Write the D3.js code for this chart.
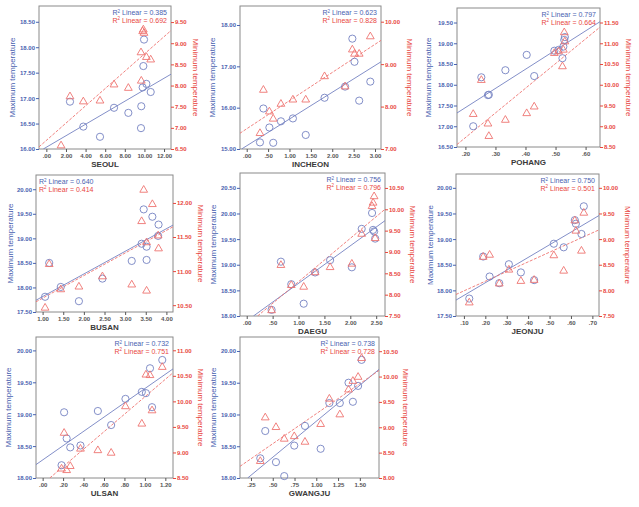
<!DOCTYPE html>
<html>
<head>
<meta charset="utf-8">
<script src="https://cdn.jsdelivr.net/npm/d3@7"></script>
<style>
  body { margin: 0; background: #fff; }
  svg { display: block; font-family: "Liberation Sans", Arial, sans-serif; }
</style>
</head>
<body>
<svg id="chart" width="639" height="507"></svg>
<script>
// ---- data ----
const stations = ["SEOUL", "INCHEON", "POHANG", "BUSAN", "DAEGU", "JEONJU", "ULSAN", "GWANGJU"];

const xValues = [
  [1.50, 2.41, 3.77, 5.47, 6.90, 8.36, 9.65, 9.68, 9.82, 10.20, 10.64, 9.89, 9.96],
  [0.39, 0.53, 0.31, 0.62, 0.80, 1.08, 1.38, 1.82, 2.30, 2.47, 2.52, 2.63, 2.89],
  [0.226, 0.253, 0.275, 0.278, 0.333, 0.404, 0.429, 0.496, 0.510, 0.523, 0.526, 0.529, 0.531],
  [1.06, 1.16, 1.44, 1.88, 2.45, 3.16, 3.40, 3.45, 3.52, 3.52, 3.66, 3.81, 3.80],
  [0.48, 0.66, 0.86, 1.10, 1.32, 1.61, 2.03, 2.22, 2.42, 2.44, 2.46, 2.48],
  [0.125, 0.19, 0.22, 0.265, 0.31, 0.366, 0.428, 0.52, 0.566, 0.618, 0.623, 0.649, 0.66],
  [0.185, 0.21, 0.235, 0.27, 0.37, 0.54, 0.67, 0.81, 0.97, 1.01, 1.05, 1.07, 1.17],
  [0.357, 0.414, 0.537, 0.632, 0.747, 0.87, 1.05, 1.15, 1.27, 1.37, 1.42, 1.48, 1.52]
];

// maximum temperature (circles, left axis)
const maxTemp = [
  [null, 16.93, 16.44, 16.24, 16.81, 16.71, 16.41, 16.84, 17.21, 17.28, 17.12, 17.63, 18.15],
  [15.98, 15.52, 15.16, 15.15, 15.67, 15.74, 15.34, 16.24, 16.51, 17.67, 17.11, 16.17, 16.63],
  [17.00, 18.18, 17.75, 17.76, 18.35, 18.72, 18.21, 18.82, 18.84, 18.64, 18.92, 19.08, 19.15],
  [17.81, 18.50, 18.01, 17.72, 18.18, 18.54, 18.89, 19.59, 18.83, 18.56, 19.44, 19.28, 19.05],
  [18.12, 19.06, 18.62, 18.24, 18.85, 19.09, 18.95, 19.70, 20.01, 19.68, 19.65, 19.51],
  [17.84, 18.66, 18.27, 18.14, 18.51, 18.35, 18.20, 18.91, 18.84, 19.37, 19.30, 19.10, 19.64],
  [18.20, 19.03, 18.62, 18.48, 18.51, 19.05, 18.83, 19.24, 19.35, 19.33, 19.72, 19.11, 19.85],
  [18.31, 18.74, 18.25, 18.03, 18.51, 18.82, 18.46, 19.18, 19.18, 19.50, 19.20, 19.45, 19.86]
];

// minimum temperature (triangles, right axis)
const minTemp = [
  [6.58, 7.74, 7.62, 7.64, 8.02, 7.94, 8.78, 8.11, 9.28, 8.67, 8.61, 9.32, 9.24],
  [8.39, 7.88, 7.37, 7.71, 8.06, 8.16, 8.16, 8.71, 8.47, 9.34, 9.24, 9.24, 9.65],
  [9.29, 10.11, 9.06, 8.76, 9.15, 9.31, 9.47, 10.76, 10.80, 10.44, 10.84, 11.26, 11.04],
  [10.46, 11.10, 10.73, 10.77, 10.92, 10.80, 11.73, 12.19, 11.42, 10.71, 11.98, 11.33, 11.52],
  [7.63, 8.69, 8.22, 8.18, 8.52, 8.64, 8.72, 9.42, 10.07, 10.15, 10.30, 9.32],
  [7.76, 8.65, 8.69, 8.13, 8.40, 8.18, 8.20, 8.68, 8.38, 9.36, 9.16, 8.77, 9.51],
  [8.68, 9.38, 8.65, 8.73, 9.07, 9.04, 8.99, 9.90, 9.56, 10.52, 10.51, 9.82, 10.67],
  [8.33, 9.19, 9.00, 8.77, 8.82, 8.71, 9.06, 9.56, 9.25, 9.74, 9.91, 9.99, 10.36]
];

// fit line end points [x0, y0, x1, y1]
const maxFit = [
  [-0.31, 16.0, 12.71, 17.47], [-0.12, 15.0, 3.14, 17.11], [0.172, 17.32, 0.648, 19.52],
  [0.84, 17.74, 4.16, 19.27], [0.13, 18.0, 2.67, 19.86], [0.063, 17.81, 0.731, 19.46],
  [-0.065, 18.21, 1.275, 19.71], [0.212, 18.0, 1.72, 19.71]
];
const minFit = [
  [-0.75, 6.55, 12.71, 9.30], [-0.16, 7.37, 3.14, 9.56], [0.172, 8.56, 0.648, 11.39],
  [0.84, 10.55, 4.16, 11.65], [0.21, 7.5, 2.67, 10.0], [0.063, 7.92, 0.731, 9.18],
  [0.07, 8.5, 1.275, 10.56], [0.124, 8.23, 1.72, 10.12]
];

const r2Max = [0.385, 0.623, 0.797, 0.640, 0.756, 0.750, 0.732, 0.738];
const r2Min = [0.692, 0.828, 0.664, 0.414, 0.796, 0.501, 0.751, 0.728];

const xTicks = [
  [0, 2, 4, 6, 8, 10, 12], [0, 0.5, 1, 1.5, 2, 2.5, 3], [0.2, 0.3, 0.4, 0.5, 0.6],
  [1, 1.5, 2, 2.5, 3, 3.5, 4], [0, 0.5, 1, 1.5, 2, 2.5], [0.1, 0.2, 0.3, 0.4, 0.5, 0.6, 0.7],
  [0, 0.2, 0.4, 0.6, 0.8, 1, 1.2], [0.25, 0.5, 0.75, 1, 1.25, 1.5]
];
const maxTicks = [
  [16, 16.5, 17, 17.5, 18, 18.5], [15, 16, 17, 18], [16.5, 17, 17.5, 18, 18.5, 19, 19.5],
  [17.5, 18, 18.5, 19, 19.5, 20], [18, 18.5, 19, 19.5, 20, 20.5], [17.5, 18, 18.5, 19, 19.5, 20],
  [18, 18.5, 19, 19.5, 20], [18, 18.5, 19, 19.5, 20]
];
const minTicks = [
  [6.5, 7, 7.5, 8, 8.5, 9, 9.5], [7, 8, 9, 10], [8.5, 9, 9.5, 10, 10.5, 11, 11.5],
  [10.5, 11, 11.5, 12], [7.5, 8, 8.5, 9, 9.5, 10, 10.5], [7.5, 8, 8.5, 9, 9.5, 10],
  [8.5, 9, 9.5, 10, 10.5, 11], [8, 8.5, 9, 9.5, 10, 10.5]
];

// ---- layout: plot box, axis ranges, title positions ----
const panels = [
  { box: [39, 6, 171, 149], xDom: [-0.75, 12.71], maxDom: [16, 18.81], minDom: [6.5, 9.88], lt: 12, rt: 195, r2: "right" },
  { box: [240, 6, 381, 149], xDom: [-0.157, 3.14], maxDom: [15, 18.46], minDom: [7, 10.37], lt: 212, rt: 409, r2: "right" },
  { box: [457, 8, 600, 147], xDom: [0.172, 0.648], maxDom: [16.5, 19.85], minDom: [8.5, 11.85], lt: 428, rt: 628, r2: "right" },
  { box: [36, 175, 173, 312], xDom: [0.84, 4.16], maxDom: [17.5, 20.29], minDom: [10.4, 12.41], lt: 10, rt: 200, r2: "left" },
  { box: [240, 173, 385, 316], xDom: [-0.13, 2.67], maxDom: [18, 20.79], minDom: [7.5, 10.85], lt: 213, rt: 412, r2: "right" },
  { box: [456, 174, 599, 316], xDom: [0.063, 0.731], maxDom: [17.5, 20.27], minDom: [7.5, 10.27], lt: 430, rt: 627, r2: "right" },
  { box: [36, 337, 173, 478], xDom: [-0.065, 1.275], maxDom: [18, 20.21], minDom: [8.5, 11.26], lt: 8, rt: 200, r2: "right" },
  { box: [240, 337, 379, 478], xDom: [0.124, 1.72], maxDom: [18, 20.22], minDom: [8, 10.78], lt: 213, rt: 405, r2: "right" }
];

const BLUE = "#4a62b0";
const RED = "#e8473f";
const MARK_BLUE = "#7582c2";
const MARK_RED = "#ee7470";
const GRAY = "#8a8a8a";

// SPSS style: drop the leading zero (".50")
const fmt = d => {
  const s = d3.format(".2f")(d);
  return s.startsWith("0.") ? s.slice(1) : s;
};

const svg = d3.select("#chart");

function drawPanel(i) {
  const p = panels[i];
  const [x0, y0, x1, y1] = p.box;
  const g = svg.append("g").attr("class", "panel");

  const x = d3.scaleLinear().domain(p.xDom).range([x0, x1]);
  const yMax = d3.scaleLinear().domain(p.maxDom).range([y1, y0]);
  const yMin = d3.scaleLinear().domain(p.minDom).range([y1, y0]);

  // plot box
  g.append("rect")
    .attr("x", x0).attr("y", y0)
    .attr("width", x1 - x0).attr("height", y1 - y0)
    .attr("fill", "#fff")
    .attr("stroke", GRAY)
    .attr("stroke-width", 1);

  // axes
  const styleAxis = (sel, color) => {
    sel.select(".domain").remove();
    sel.selectAll(".tick line").attr("stroke", color);
    sel.selectAll(".tick text")
      .attr("fill", color)
      .style("font-size", "6px")
      .style("font-weight", "bold");
  };

  g.append("g")
    .attr("transform", `translate(${x0},0)`)
    .call(d3.axisLeft(yMax).tickValues(maxTicks[i]).tickSize(3).tickPadding(1).tickFormat(fmt))
    .call(sel => styleAxis(sel, BLUE));

  g.append("g")
    .attr("transform", `translate(${x1},0)`)
    .call(d3.axisRight(yMin).tickValues(minTicks[i]).tickSize(3).tickPadding(1).tickFormat(fmt))
    .call(sel => styleAxis(sel, RED));

  g.append("g")
    .attr("transform", `translate(0,${y1})`)
    .call(d3.axisBottom(x).tickValues(xTicks[i]).tickSize(3).tickPadding(2).tickFormat(fmt))
    .call(sel => styleAxis(sel, "#555"));

  // fit lines, clipped to the box
  const clipId = `clip-${i}`;
  g.append("clipPath").attr("id", clipId)
    .append("rect")
    .attr("x", x0).attr("y", y0)
    .attr("width", x1 - x0).attr("height", y1 - y0);

  const lines = g.append("g").attr("clip-path", `url(#${clipId})`);
  const mf = maxFit[i];
  lines.append("line")
    .attr("x1", x(mf[0])).attr("y1", yMax(mf[1]))
    .attr("x2", x(mf[2])).attr("y2", yMax(mf[3]))
    .attr("stroke", MARK_BLUE)
    .attr("stroke-width", 0.9);
  const nf = minFit[i];
  lines.append("line")
    .attr("x1", x(nf[0])).attr("y1", yMin(nf[1]))
    .attr("x2", x(nf[2])).attr("y2", yMin(nf[3]))
    .attr("stroke", MARK_RED)
    .attr("stroke-width", 0.9)
    .attr("stroke-dasharray", "3,1.5");

  // markers
  const pts = xValues[i].map((xv, j) => ({ x: xv, max: maxTemp[i][j], min: minTemp[i][j] }));

  g.selectAll(".circle-pt")
    .data(pts.filter(d => d.max != null))
    .join("circle")
    .attr("class", "circle-pt")
    .attr("cx", d => x(d.x))
    .attr("cy", d => yMax(d.max))
    .attr("r", 3.6)
    .attr("fill", "none")
    .attr("stroke", MARK_BLUE)
    .attr("stroke-width", 0.9);

  const tri = d3.symbol().type(d3.symbolTriangle).size(26);
  g.selectAll(".tri-pt")
    .data(pts.filter(d => d.min != null))
    .join("path")
    .attr("class", "tri-pt")
    .attr("d", tri)
    .attr("transform", d => `translate(${x(d.x)},${yMin(d.min)})`)
    .attr("fill", "none")
    .attr("stroke", MARK_RED)
    .attr("stroke-width", 0.9);

  // R² labels
  const left = p.r2 === "left";
  const lx = left ? x0 + 3 : x1 - 4;
  const r2 = (val, yy, color) => {
    const t = g.append("text")
      .attr("x", lx).attr("y", yy)
      .attr("text-anchor", left ? "start" : "end")
      .attr("fill", color)
      .style("font-size", "7px");
    t.append("tspan").text("R");
    t.append("tspan").attr("dy", -2.5).style("font-size", "4.5px").text("2");
    t.append("tspan").attr("dy", 2.5).text(` Linear = ${val.toFixed(3)}`);
  };
  r2(r2Max[i], y0 + 9, BLUE);
  r2(r2Min[i], y0 + 16.5, RED);

  // axis titles
  const cy = (y0 + y1) / 2;
  g.append("text")
    .attr("transform", `translate(${p.lt},${cy}) rotate(-90)`)
    .attr("text-anchor", "middle")
    .attr("dominant-baseline", "central")
    .attr("fill", BLUE)
    .style("font-size", "8px")
    .text("Maximum temperature");

  g.append("text")
    .attr("transform", `translate(${p.rt},${cy}) rotate(90)`)
    .attr("text-anchor", "middle")
    .attr("dominant-baseline", "central")
    .attr("fill", RED)
    .style("font-size", "8px")
    .text("Minimum temperature");

  g.append("text")
    .attr("x", (x0 + x1) / 2)
    .attr("y", y1 + 18)
    .attr("text-anchor", "middle")
    .attr("fill", "#3a3a3a")
    .style("font-size", "8px")
    .style("font-weight", "bold")
    .text(stations[i]);
}

stations.forEach((s, i) => drawPanel(i));
</script>
</body>
</html>
